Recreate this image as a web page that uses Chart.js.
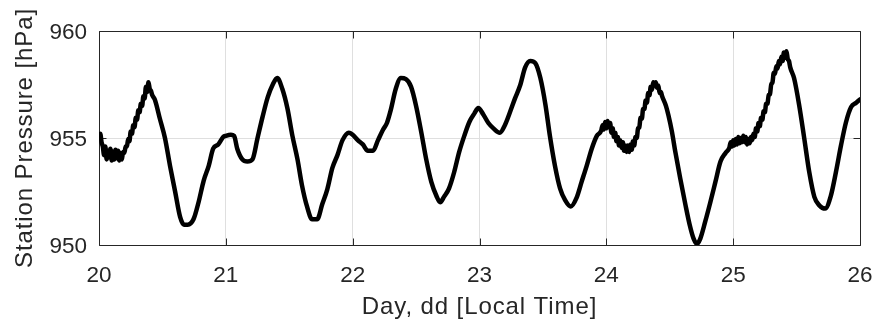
<!DOCTYPE html>
<html>
<head>
<meta charset="utf-8">
<script src="https://cdn.jsdelivr.net/npm/chart.js@4/dist/chart.umd.min.js"></script>
<style>
  html, body { margin: 0; padding: 0; background: #ffffff; }
  #wrap { width: 879px; height: 326px; }
</style>
</head>
<body>
<div id="wrap"><canvas id="c" width="879" height="326"></canvas></div>
<script>
// Station pressure record, day of month (local time) and pressure in hPa
const days = [
  20.00, 20.01, 20.02, 20.03, 20.04, 20.05, 20.06, 20.07, 20.08, 20.09,
  20.10, 20.11, 20.12, 20.13, 20.14, 20.15, 20.16, 20.17, 20.18, 20.19,
  20.20, 20.21, 20.22, 20.23, 20.24, 20.25, 20.26, 20.27, 20.28, 20.29,
  20.30, 20.31, 20.32, 20.33, 20.34, 20.35, 20.36, 20.37, 20.38, 20.39,
  20.40, 20.41, 20.42,
  20.44, 20.48, 20.52, 20.56, 20.60, 20.64, 20.67, 20.70, 20.745, 20.785,
  20.825, 20.865, 20.90, 20.94, 20.98,
  21.00, 21.04, 21.065, 21.09, 21.13, 21.17, 21.21, 21.25, 21.29, 21.33,
  21.37, 21.405, 21.445, 21.485, 21.525, 21.565, 21.60, 21.64, 21.68, 21.72,
  21.76, 21.80, 21.84, 21.88, 21.92, 21.97,
  22.00, 22.04, 22.08, 22.12, 22.16, 22.20, 22.24, 22.27, 22.30, 22.34,
  22.38, 22.42, 22.46, 22.50, 22.54, 22.58, 22.62, 22.66, 22.69, 22.72,
  22.76, 22.80, 22.84, 22.88, 22.92, 22.96, 22.99,
  23.03, 23.07, 23.11, 23.16, 23.20, 23.24, 23.28, 23.32, 23.36, 23.40,
  23.44, 23.48, 23.52, 23.555, 23.595, 23.635, 23.675, 23.72, 23.765, 23.805,
  23.845, 23.885, 23.925,
  23.96, 23.97, 23.98, 23.99, 24.00, 24.01, 24.02, 24.03, 24.04, 24.05,
  24.06, 24.07, 24.08, 24.09, 24.10, 24.11, 24.12, 24.13, 24.14, 24.15,
  24.16, 24.17, 24.18, 24.19, 24.20, 24.21, 24.22, 24.23, 24.24, 24.25,
  24.26, 24.27, 24.28, 24.29, 24.30, 24.31, 24.32, 24.33, 24.34, 24.35,
  24.36, 24.37, 24.38, 24.39, 24.40, 24.41, 24.42, 24.43, 24.44,
  24.47, 24.49, 24.517, 24.544, 24.583, 24.623, 24.657, 24.688, 24.715, 24.741,
  24.78, 24.82, 24.86, 24.90, 24.94,
  24.97, 24.98, 24.99, 25.00, 25.01, 25.02, 25.03, 25.04, 25.05, 25.06,
  25.07, 25.08, 25.09, 25.10, 25.11, 25.12, 25.13, 25.14, 25.15, 25.16,
  25.17, 25.18, 25.19, 25.20, 25.21, 25.22, 25.23, 25.24, 25.25, 25.26,
  25.27, 25.28, 25.29, 25.30, 25.31, 25.32, 25.33, 25.34, 25.35, 25.36,
  25.37, 25.38, 25.39, 25.40, 25.41, 25.42, 25.43, 25.44, 25.45,
  25.48, 25.52, 25.56, 25.60, 25.64, 25.68, 25.725, 25.77, 25.81, 25.85,
  25.89, 25.93, 25.97, 26.00
];

const pressure = [
  955.0, 955.2, 954.8, 954.6, 954.2, 954.6, 954.0, 954.4, 954.1, 954.5,
  953.95, 954.35, 954.0, 954.45, 954.05, 954.4, 953.95, 954.3, 954.0, 954.35,
  954.3, 954.6, 954.6, 954.95, 954.85, 955.3, 955.2, 955.6, 955.5, 955.95,
  955.85, 956.3, 956.2, 956.6, 956.5, 956.95, 956.85, 957.4, 957.15, 957.6,
  957.3, 957.2, 957.0,
  956.8, 955.9, 955.0, 953.7, 952.5, 951.3, 950.95, 950.95, 951.2, 952.0,
  953.0, 953.7, 954.5, 954.7, 955.05,
  955.1, 955.15, 955.1, 954.5, 954.0, 953.9, 954.0, 955.0, 956.0, 956.9,
  957.5, 957.8, 957.3, 956.4, 955.1, 954.0, 952.8, 951.8, 951.2, 951.2,
  951.9, 952.6, 953.6, 954.2, 954.9, 955.25,
  955.15, 954.9, 954.7, 954.4, 954.4, 954.9, 955.4, 955.7, 956.3, 957.3,
  957.8, 957.75, 957.4, 956.5, 955.3, 954.0, 952.95, 952.3, 952.0, 952.25,
  952.65, 953.4, 954.35, 955.1, 955.75, 956.15, 956.4,
  956.1, 955.7, 955.45, 955.25, 955.6, 956.2, 956.85, 957.45, 958.3, 958.6,
  958.5, 957.8, 956.55, 955.1, 953.7, 952.65, 952.1, 951.8, 952.2, 952.95,
  953.7, 954.5, 955.1,
  955.35, 955.6, 955.4, 955.75, 955.45, 955.8, 955.5, 955.7, 955.25, 955.45,
  955.05, 955.25, 954.85, 955.05, 954.65, 954.9, 954.55, 954.8, 954.4, 954.65,
  954.35, 954.65, 954.35, 954.7, 954.45, 954.85, 954.65, 955.05, 955.0, 955.45,
  955.5, 955.95, 955.9, 956.35, 956.35, 956.75, 956.65, 957.1, 957.0, 957.4,
  957.25, 957.6, 957.45, 957.6, 957.35, 957.45, 957.1, 957.15, 956.95,
  956.5, 956.05, 955.3, 954.35, 953.1, 951.9, 950.95, 950.3, 950.05, 950.3,
  951.1, 952.0, 952.95, 953.9, 954.3,
  954.55, 954.8, 954.6, 954.9, 954.65, 954.95, 954.7, 955.05, 954.75, 955.0,
  954.8, 955.1, 954.8, 955.05, 954.7, 954.95, 954.75, 955.05, 954.9, 955.2,
  955.05, 955.45, 955.3, 955.7, 955.55, 955.95, 955.85, 956.25, 956.2, 956.6,
  956.6, 957.0, 957.05, 957.5, 957.6, 958.05, 958.0, 958.35, 958.25, 958.6,
  958.45, 958.8, 958.6, 959.0, 958.75, 959.05, 958.7, 958.6, 958.3,
  957.8, 956.55, 955.0, 953.4, 952.25, 951.85, 951.7, 952.3, 953.4, 954.65,
  955.75, 956.45, 956.65, 956.8
];

const dayTicks = [20, 21, 22, 23, 24, 25, 26];
const pressureTicks = [950, 955, 960];

const axisInk = '#262626';
const gridInk = '#dfdfdf';
const fontFamily = '"Liberation Sans", Arial, Helvetica, sans-serif';

const points = days.map((d, i) => ({ x: d, y: pressure[i] }));

// Axis titles are set slightly letter-spaced
function spacedTitle(scale) {
  if (scale._spacedTitle) return;
  const base = scale.drawTitle;
  scale.drawTitle = function () {
    this.ctx.save();
    this.ctx.letterSpacing = '0.9px';
    base.call(this);
    this.ctx.restore();
  };
  scale._spacedTitle = true;
}

// Box outline with inward tick marks drawn over the grid, under the trace
const boxAndTicks = {
  id: 'boxAndTicks',
  beforeDatasetsDraw(chart) {
    const { ctx, chartArea: a, scales } = chart;
    const L = Math.round(a.left) + 0.5, R = Math.round(a.right) + 0.5;
    const T = Math.round(a.top) + 0.5, B = Math.round(a.bottom) + 0.5;
    const len = 7;
    ctx.save();
    ctx.strokeStyle = axisInk;
    ctx.lineWidth = 1;
    ctx.beginPath();
    ctx.rect(L, T, R - L, B - T);
    dayTicks.forEach(v => {
      const px = Math.round(scales.x.getPixelForValue(v)) + 0.5;
      ctx.moveTo(px, B); ctx.lineTo(px, B - len);
      ctx.moveTo(px, T); ctx.lineTo(px, T + len);
    });
    pressureTicks.forEach(v => {
      const py = Math.round(scales.y.getPixelForValue(v)) + 0.5;
      ctx.moveTo(L, py); ctx.lineTo(L + len, py);
      ctx.moveTo(R, py); ctx.lineTo(R - len, py);
    });
    ctx.stroke();
    ctx.restore();
  }
};

new Chart(document.getElementById('c'), {
  type: 'line',
  data: {
    datasets: [{
      data: points,
      borderColor: '#000000',
      borderWidth: 4.5,
      pointRadius: 0,
      fill: false,
      cubicInterpolationMode: 'monotone',
      borderJoinStyle: 'round',
      borderCapStyle: 'round'
    }]
  },
  options: {
    responsive: false,
    animation: false,
    events: [],
    layout: { padding: { top: 31, right: 19, bottom: 0, left: 0 } },
    plugins: { legend: { display: false }, tooltip: { enabled: false } },
    scales: {
      x: {
        type: 'linear',
        min: 20, max: 26,
        afterFit(scale) {
          scale.height = 81;
          scale.paddingLeft = 0;
          scale.paddingRight = 0;
          spacedTitle(scale);
        },
        afterBuildTicks(scale) { scale.ticks = dayTicks.map(v => ({ value: v })); },
        grid: {
          drawTicks: false,
          color: ctx => (ctx.tick && (ctx.tick.value === 20 || ctx.tick.value === 26)) ? 'rgba(0,0,0,0)' : gridInk,
          lineWidth: 1
        },
        border: { display: false },
        ticks: {
          color: axisInk,
          padding: 17,
          maxRotation: 0,
          font: { family: fontFamily, size: 22.5 },
          callback: v => String(v)
        },
        title: {
          display: true,
          text: 'Day, dd [Local Time]',
          color: axisInk,
          font: { family: fontFamily, size: 24 },
          padding: { top: 0, bottom: 4 }
        }
      },
      y: {
        type: 'linear',
        min: 950, max: 960,
        afterFit(scale) {
          scale.width = 99;
          spacedTitle(scale);
        },
        afterBuildTicks(scale) { scale.ticks = pressureTicks.map(v => ({ value: v })); },
        grid: {
          drawTicks: false,
          color: ctx => (ctx.tick && (ctx.tick.value === 950 || ctx.tick.value === 960)) ? 'rgba(0,0,0,0)' : gridInk,
          lineWidth: 1
        },
        border: { display: false },
        ticks: {
          color: axisInk,
          padding: 12,
          labelOffset: 2,
          font: { family: fontFamily, size: 22.5 },
          callback: v => String(v)
        },
        title: {
          display: true,
          text: 'Station Pressure [hPa]',
          color: axisInk,
          font: { family: fontFamily, size: 24 },
          padding: { top: 11, bottom: 0 }
        }
      }
    }
  },
  plugins: [boxAndTicks]
});
</script>
</body>
</html>
